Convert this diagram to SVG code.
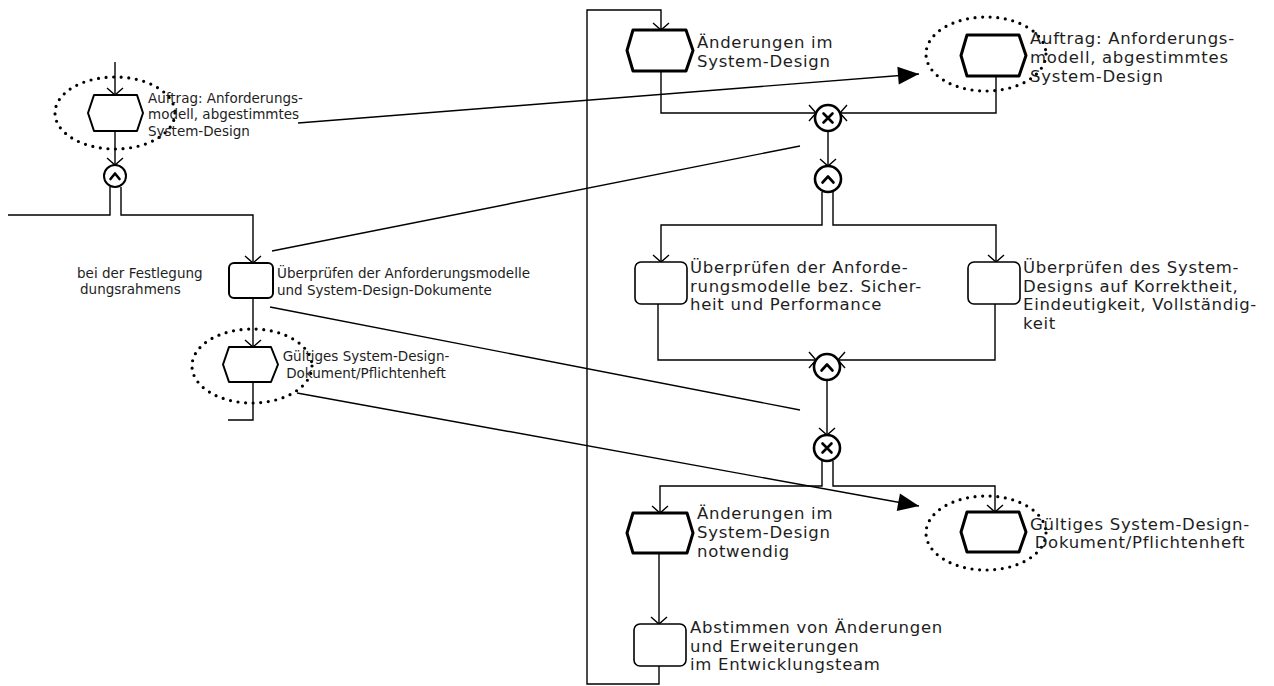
<svg xmlns="http://www.w3.org/2000/svg" width="1274" height="686" viewBox="0 0 1274 686">
<style>
.ln{fill:none;stroke:#000;stroke-width:1.4}
.hx{fill:#fff;stroke:#000;stroke-width:3;stroke-linejoin:round}
.hxs{fill:#fff;stroke:#000;stroke-width:2;stroke-linejoin:round}
.fn{fill:#fff;stroke:#000;stroke-width:1.6}
.fns{fill:#fff;stroke:#000;stroke-width:2}
.el{fill:none;stroke:#000;stroke-width:3.2;stroke-dasharray:0 7.6;stroke-linecap:round}
.op{fill:#fff;stroke:#000;stroke-width:2.6}
.ops{fill:#fff;stroke:#000;stroke-width:2}
.sym{fill:none;stroke:#000;stroke-width:2.6;stroke-linecap:round;stroke-linejoin:round}
.t{font-family:"DejaVu Sans",Verdana,sans-serif;font-size:16.5px;letter-spacing:0.7px;fill:#1e1e1e}
.ts{font-family:"DejaVu Sans",Verdana,sans-serif;font-size:13.5px;fill:#1e1e1e}
.m{text-anchor:middle}
</style>
<defs>
<marker id="oa" markerUnits="userSpaceOnUse" markerWidth="20" markerHeight="20" viewBox="-10 -10 20 20" refX="0" refY="0" orient="auto">
<path d="M-7,-8 L0,0 L-7,8" fill="none" stroke="#000" stroke-width="1.4"/>
</marker>
<marker id="fa" markerUnits="userSpaceOnUse" markerWidth="30" markerHeight="30" viewBox="-25 -15 30 30" refX="0" refY="0" orient="auto">
<path d="M-21,-9 L0,0 L-21,9 Z" fill="#000"/>
</marker>
</defs>

<g id="connectors">
<!-- left column -->
<path class="ln" d="M115,62 V95" marker-end="url(#oa)"/>
<path class="ln" d="M115,131 V165" marker-end="url(#oa)"/>
<path class="ln" d="M110,187 V215 H8"/>
<path class="ln" d="M121,187 V215 H253 V263" marker-end="url(#oa)"/>
<path class="ln" d="M253,298 V347" marker-end="url(#oa)"/>
<path class="ln" d="M253,382 V420 H228"/>
<!-- information flows -->
<path class="ln" d="M298,123 L919,74" marker-end="url(#fa)"/>
<path class="ln" d="M272,251 L800,146"/>
<path class="ln" d="M270,307 L800,410"/>
<path class="ln" d="M297,393 L919,506" marker-end="url(#fa)"/>
<!-- right column -->
<path class="ln" d="M661,71 V113 H816" marker-end="url(#oa)"/>
<path class="ln" d="M996,76 V113 H840" marker-end="url(#oa)"/>
<path class="ln" d="M828,131 V166" marker-end="url(#oa)"/>
<path class="ln" d="M822,192 V225 H661 V262" marker-end="url(#oa)"/>
<path class="ln" d="M833,192 V225 H996 V262" marker-end="url(#oa)"/>
<path class="ln" d="M658,304 V360 H816" marker-end="url(#oa)"/>
<path class="ln" d="M995,304 V360 H838" marker-end="url(#oa)"/>
<path class="ln" d="M827,380 V435" marker-end="url(#oa)"/>
<path class="ln" d="M822,461 V486 H660 V513" marker-end="url(#oa)"/>
<path class="ln" d="M833,461 V486 H995 V512" marker-end="url(#oa)"/>
<path class="ln" d="M659,553 V624" marker-end="url(#oa)"/>
<path class="ln" d="M659,666 V684 H587 V10 H661 V30" marker-end="url(#oa)"/>
</g>

<g id="ev-auftrag-left">
<polygon class="hxs" points="94,95 137,95 143,113 137,131 94,131 88,113"/>
<ellipse class="el" cx="115" cy="113" rx="60" ry="36"/>
<text class="ts" x="148" y="103">Auftrag: Anforderungs-</text>
<text class="ts" x="148" y="119">modell, abgestimmtes</text>
<text class="ts" x="148" y="136">System-Design</text>
</g>

<g id="and-left">
<circle class="ops" cx="115" cy="176" r="11"/>
<path class="sym" stroke-width="2" d="M110.5,179 L115,173.5 L119.5,179"/>
</g>

<g id="label-left">
<text class="ts" x="77" y="278">bei der Festlegung</text>
<text class="ts" x="80" y="294">dungsrahmens</text>
</g>

<g id="fn-ueberpruefen-left">
<rect class="fns" x="229" y="263" width="44" height="35" rx="5"/>
<text class="ts" x="277" y="278">Überprüfen der Anforderungsmodelle</text>
<text class="ts" x="277" y="295">und System-Design-Dokumente</text>
</g>

<g id="ev-gueltig-left">
<polygon class="hxs" points="229,347 271,347 278,364.5 271,382 229,382 223,364.5"/>
<ellipse class="el" cx="252" cy="366" rx="60" ry="37"/>
<text class="ts m" x="366" y="361">Gültiges System-Design-</text>
<text class="ts m" x="366" y="378">Dokument/Pflichtenheft</text>
</g>

<g id="ev-aenderungen">
<polygon class="hx" points="633,30 686,30 693,50.5 686,71 633,71 627,50.5"/>
<text class="t" x="697" y="48">Änderungen im</text>
<text class="t" x="697" y="67">System-Design</text>
</g>

<g id="ev-auftrag-right">
<polygon class="hx" points="967,35 1019,35 1026,55.5 1019,76 967,76 961,55.5"/>
<ellipse class="el" cx="986" cy="54" rx="60" ry="37"/>
<text class="t" x="1030" y="44">Auftrag: Anforderungs-</text>
<text class="t" x="1030" y="63">modell, abgestimmtes</text>
<text class="t" x="1030" y="82">System-Design</text>
</g>

<g id="xor-top">
<circle class="op" cx="828" cy="118" r="13"/>
<path class="sym" stroke-width="3" d="M823.5,113.5 L832.5,122.5 M832.5,113.5 L823.5,122.5"/>
</g>

<g id="and-split">
<circle class="op" cx="828" cy="179" r="13"/>
<path class="sym" d="M822.5,182.5 L828,176.5 L833.5,182.5"/>
</g>

<g id="fn-sicherheit">
<rect class="fn" x="635" y="262" width="52" height="42" rx="6"/>
<text class="t" x="690" y="273">Überprüfen der Anforde-</text>
<text class="t" x="690" y="291.7">rungsmodelle bez. Sicher-</text>
<text class="t" x="690" y="310.4">heit und Performance</text>
</g>

<g id="fn-korrektheit">
<rect class="fn" x="968" y="262" width="52" height="42" rx="6"/>
<text class="t" x="1023" y="273">Überprüfen des System-</text>
<text class="t" x="1023" y="291.7">Designs auf Korrektheit,</text>
<text class="t" x="1023" y="310.4">Eindeutigkeit, Vollständig-</text>
<text class="t" x="1023" y="329.1">keit</text>
</g>

<g id="and-join">
<circle class="op" cx="827" cy="367" r="13"/>
<path class="sym" d="M821.5,370.5 L827,364.5 L832.5,370.5"/>
</g>

<g id="xor-bottom">
<circle class="op" cx="827" cy="448" r="13"/>
<path class="sym" stroke-width="3" d="M822.5,443.5 L831.5,452.5 M831.5,443.5 L822.5,452.5"/>
</g>

<g id="ev-aenderungen-notwendig">
<polygon class="hx" points="633,513 687,513 693,533 687,553 633,553 627,533"/>
<text class="t" x="697" y="519">Änderungen im</text>
<text class="t" x="697" y="538">System-Design</text>
<text class="t" x="697" y="557">notwendig</text>
</g>

<g id="ev-gueltig-right">
<polygon class="hx" points="967,512 1019,512 1026,532 1019,552 967,552 961,532"/>
<ellipse class="el" cx="986" cy="533" rx="60" ry="37"/>
<text class="t m" x="1140" y="530">Gültiges System-Design-</text>
<text class="t m" x="1140" y="548">Dokument/Pflichtenheft</text>
</g>

<g id="fn-abstimmen">
<rect class="fn" x="634" y="624" width="52" height="42" rx="6"/>
<text class="t" x="690" y="633">Abstimmen von Änderungen</text>
<text class="t" x="690" y="652">und Erweiterungen</text>
<text class="t" x="690" y="670">im Entwicklungsteam</text>
</g>
</svg>
